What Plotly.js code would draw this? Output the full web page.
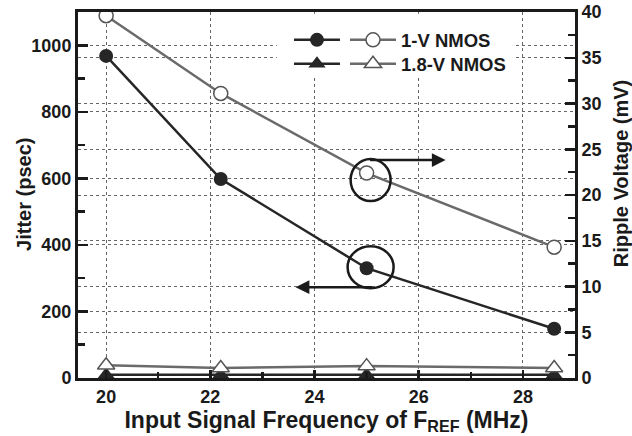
<!DOCTYPE html>
<html>
<head>
<meta charset="utf-8">
<script src="https://cdn.plot.ly/plotly-3.0.1.min.js"></script>
<style>html,body{margin:0;padding:0;background:#fff;}#chart{width:632px;height:436px;}</style>
</head>
<body>
<div id="chart"></div>
<script>
// ---- data ----
const freqMHz   = [20, 22.2, 25, 28.6];
const jitter1V  = [968, 598, 330, 148];     // psec (left axis)
const ripple1V  = [39.6, 31.1, 22.4, 14.3]; // mV (right axis)
const jitter18V = [10, 10, 10, 10];         // psec (left axis)
const ripple18V = [1.4, 1.1, 1.3, 1.1];     // mV (right axis)
const seriesNames = ['1-V NMOS', '1.8-V NMOS'];

const FONT = 'Liberation Sans, Arial, Helvetica, sans-serif';
const INK = '#1a1a1a';
const GREY = '#6a6a6a';

const traces = [
  { x: freqMHz, y: jitter1V, yaxis: 'y', type: 'scatter', mode: 'lines+markers',
    name: ' ', legend: 'legend',
    line: { color: '#262626', width: 2.5 },
    marker: { symbol: 'circle', size: 14, color: '#262626', line: { width: 0 } } },
  { x: freqMHz, y: ripple1V, yaxis: 'y2', type: 'scatter', mode: 'lines+markers',
    name: seriesNames[0], legend: 'legend2',
    line: { color: GREY, width: 2.5 },
    marker: { symbol: 'circle', size: 14, color: '#ffffff', line: { color: '#555', width: 1.5 } } },
  { x: freqMHz, y: jitter18V, yaxis: 'y', type: 'scatter', mode: 'lines+markers',
    name: ' ', legend: 'legend3',
    line: { color: '#262626', width: 2.5 },
    marker: { symbol: 'triangle-up', size: 15, color: '#262626', line: { width: 0 } } },
  { x: freqMHz, y: ripple18V, yaxis: 'y2', type: 'scatter', mode: 'lines+markers',
    name: seriesNames[1], legend: 'legend4',
    line: { color: GREY, width: 2.5 },
    marker: { symbol: 'triangle-up', size: 15, color: '#ffffff', line: { color: '#555', width: 1.5 } } }
];

const gridStyle = { showgrid: true, gridcolor: '#666', gridwidth: 1, griddash: 'dot' };
const legendStyle = {
  xanchor: 'left', yanchor: 'top',
  bgcolor: 'rgba(0,0,0,0)', borderwidth: 0, itemwidth: 46,
  font: { size: 18.5, weight: 'bold', color: INK }
};
const rowY = [0.9745, 0.909];       // legend rows (paper fraction)
const colX = [0.4245, 0.5372];      // legend symbol columns (paper fraction)

const layout = {
  width: 632, height: 436,
  margin: { l: 78, r: 57, t: 12, b: 58, pad: 0 },
  paper_bgcolor: '#ffffff', plot_bgcolor: '#ffffff',
  font: { family: FONT, size: 18, color: INK, weight: 'bold' },
  showlegend: true,
  xaxis: Object.assign({
    range: [19.46, 29.0], tick0: 20, dtick: 2,
    ticks: 'inside', ticklen: 8, tickwidth: 2.5, tickcolor: INK,
    showline: true, linewidth: 3, linecolor: INK, mirror: true, zeroline: false,
    tickfont: { size: 18, weight: 'bold' },
    minor: { dtick: 1, ticks: 'inside', ticklen: 6, tickwidth: 2.5, tickcolor: INK, showgrid: false },
    title: { text: 'Input Signal Frequency of F<sub>REF</sub> (MHz)', font: { size: 23, weight: 'bold' }, standoff: 6 }
  }, gridStyle),
  yaxis: Object.assign({
    range: [0, 1100], tick0: 0, dtick: 200,
    ticks: 'inside', ticklen: 10, tickwidth: 2.5, tickcolor: INK,
    showline: true, linewidth: 3, linecolor: INK, zeroline: false,
    tickfont: { size: 18, weight: 'bold' },
    minor: { dtick: 100, ticks: 'inside', ticklen: 7, tickwidth: 2.5, tickcolor: INK, showgrid: false }
  }, gridStyle),
  yaxis2: Object.assign({
    overlaying: 'y', side: 'right', anchor: 'x',
    range: [0, 40], tick0: 0, dtick: 5,
    ticks: 'inside', ticklen: 10, tickwidth: 2.5, tickcolor: INK,
    showline: true, linewidth: 3, linecolor: INK, zeroline: false,
    tickfont: { size: 18, weight: 'bold' },
    minor: { dtick: 2.5, ticks: 'inside', ticklen: 7, tickwidth: 2.5, tickcolor: INK, showgrid: false }
  }, gridStyle),
  legend:  Object.assign({ x: colX[0], y: rowY[0] }, legendStyle),
  legend2: Object.assign({ x: colX[1], y: rowY[0] }, legendStyle),
  legend3: Object.assign({ x: colX[0], y: rowY[1] }, legendStyle),
  legend4: Object.assign({ x: colX[1], y: rowY[1] }, legendStyle),
  shapes: [
    // white backing behind the legend block (hides the dotted grid there)
    { type: 'rect', xref: 'x domain', yref: 'y domain', x0: 0.40, x1: 0.875, y0: 0.822, y1: 0.995,
      line: { width: 0 }, fillcolor: '#ffffff', layer: 'above' },
    // callout ellipse around the 1-V jitter point at 25 MHz
    { type: 'circle', xref: 'x', yref: 'y', xsizemode: 'pixel', ysizemode: 'pixel',
      xanchor: freqMHz[2], yanchor: jitter1V[2], x0: -19, x1: 27, y0: -20, y1: 22,
      line: { color: INK, width: 2.5 }, fillcolor: 'rgba(0,0,0,0)', layer: 'above' },
    // callout ellipse around the 1-V ripple point at 25 MHz
    { type: 'circle', xref: 'x', yref: 'y2', xsizemode: 'pixel', ysizemode: 'pixel',
      xanchor: freqMHz[2], yanchor: ripple1V[2], x0: -16, x1: 24, y0: -28, y1: 14,
      line: { color: INK, width: 2.5 }, fillcolor: 'rgba(0,0,0,0)', layer: 'above' }
  ],
  annotations: [
    // left-axis title
    { xref: 'paper', yref: 'paper', x: -0.1087, y: 0.503, xanchor: 'center', yanchor: 'middle',
      text: 'Jitter (psec)', textangle: -90, showarrow: false,
      font: { size: 20, weight: 'bold', color: INK } },
    // right-axis title (sits above the axis centre in the reference)
    { xref: 'paper', yref: 'paper', x: 1.0926, y: 0.557, xanchor: 'center', yanchor: 'middle',
      text: 'Ripple Voltage (mV)', textangle: -90, showarrow: false,
      font: { size: 20, weight: 'bold', color: INK } },
    // arrow pointing to the left axis
    { xref: 'x', yref: 'y', x: freqMHz[2], y: jitter1V[2], xshift: -71, yshift: -19,
      text: '', showarrow: true, ax: 78, ay: 0, axref: 'pixel', ayref: 'pixel',
      arrowhead: 2, arrowsize: 1.1, arrowwidth: 2.5, arrowcolor: INK, standoff: 0, startstandoff: 0 },
    // arrow pointing to the right axis
    { xref: 'x', yref: 'y2', x: freqMHz[2], y: ripple1V[2], xshift: 79, yshift: 13,
      text: '', showarrow: true, ax: -77, ay: 0, axref: 'pixel', ayref: 'pixel',
      arrowhead: 2, arrowsize: 1.1, arrowwidth: 2.5, arrowcolor: INK, standoff: 0, startstandoff: 0 }
  ]
};

Plotly.newPlot('chart', traces, layout, { displayModeBar: false, staticPlot: true });
</script>
</body>
</html>
